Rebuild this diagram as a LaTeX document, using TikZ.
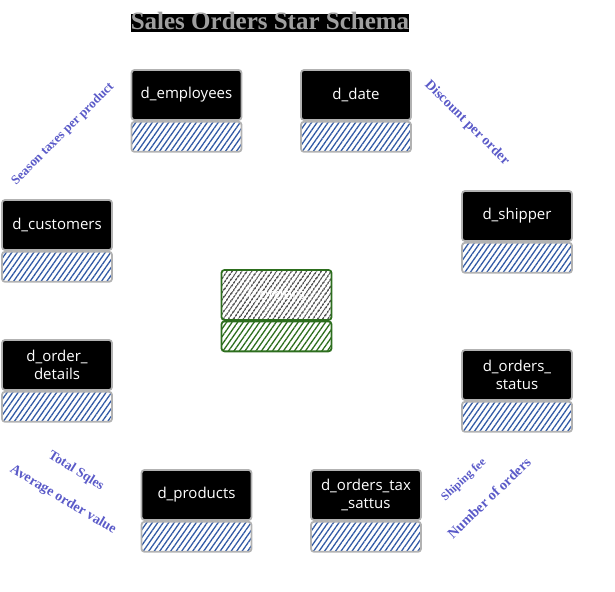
\documentclass[tikz,border=0pt]{standalone}
\usepackage{fontspec}
\setmainfont{Liberation Serif}
\newfontfamily\tblfont{Open Sans}
\usetikzlibrary{positioning,patterns.meta}
\definecolor{hatchblue}{RGB}{50,90,165}
\definecolor{factgreen}{RGB}{45,110,30}
\definecolor{labelblue}{RGB}{90,90,200}
\tikzset{
  tblhead/.style={draw=gray!60, line width=1.8pt, fill=black, text=white, rounded corners=3pt,
    minimum width=110pt, minimum height=50pt, inner sep=1pt, align=center, font=\tblfont\fontsize{15}{18}\selectfont},
  tblbody/.style={draw=gray!60, line width=1.8pt, rounded corners=3pt, minimum width=110pt, minimum height=30pt,
    pattern={Lines[angle=55,distance=4.5pt,line width=1.3pt]}, pattern color=hatchblue},
  facthead/.style={tblhead, draw=factgreen, fill=none,
    pattern={Lines[angle=55,distance=4pt,line width=1.4pt]}, pattern color=black},
  factbody/.style={tblbody, draw=factgreen, pattern color=factgreen},
  measure/.style={text=labelblue, font=\bfseries\fontsize{#1}{#1}\selectfont, inner sep=0pt}
}
\begin{document}
\begin{tikzpicture}[x=1pt,y=-1pt]
    \useasboundingbox (0,0) rectangle (615,591);
    % title
    \fill[black] (131,14) rectangle (409,32);
    \node[text=gray!75, inner sep=0pt, font=\bfseries\fontsize{25}{25}\selectfont] (title) at (270,21) {Sales Orders Star Schema};
    % fact table
    \node[facthead] (fact) at (276.5,295) {f\_orders};
    \node[factbody, below=0pt of fact] (fact-b) {};
    % dimension tables
    \node[tblhead] (emp) at (186.5,95) {d\_employees};
    \node[tblbody, below=0pt of emp] (emp-b) {};
    \node[tblhead] (date) at (356,95) {d\_date};
    \node[tblbody, below=0pt of date] (date-b) {};
    \node[tblhead] (cust) at (57,225) {d\_customers};
    \node[tblbody, below=0pt of cust] (cust-b) {};
    \node[tblhead] (ship) at (517,216) {d\_shipper};
    \node[tblbody, below=0pt of ship] (ship-b) {};
    \node[tblhead] (odet) at (57,365) {d\_order\_\\details};
    \node[tblbody, below=0pt of odet] (odet-b) {};
    \node[tblhead] (ostat) at (517,375) {d\_orders\_\\status};
    \node[tblbody, below=0pt of ostat] (ostat-b) {};
    \node[tblhead] (prod) at (196.5,495) {d\_products};
    \node[tblbody, below=0pt of prod] (prod-b) {};
    \node[tblhead] (otax) at (366,495) {d\_orders\_tax\\\_sattus};
    \node[tblbody, below=0pt of otax] (otax-b) {};
    % measures
    \node[measure=13, rotate=45] (season) at (63,134) {Season taxes per product};
    \node[measure=14, rotate=-45] (disc) at (467,123) {Discount per order};
    \node[measure=13.5, rotate=-32] (total) at (76,471) {Total Sqles};
    \node[measure=14, rotate=-31] (avg) at (63,500) {Average order value};
    \node[measure=11.8, rotate=43] (shipfee) at (464,480) {Shiping fee};
    \node[measure=14.3, rotate=44] (norders) at (489,498) {Number of orders};
\end{tikzpicture}
\end{document}
